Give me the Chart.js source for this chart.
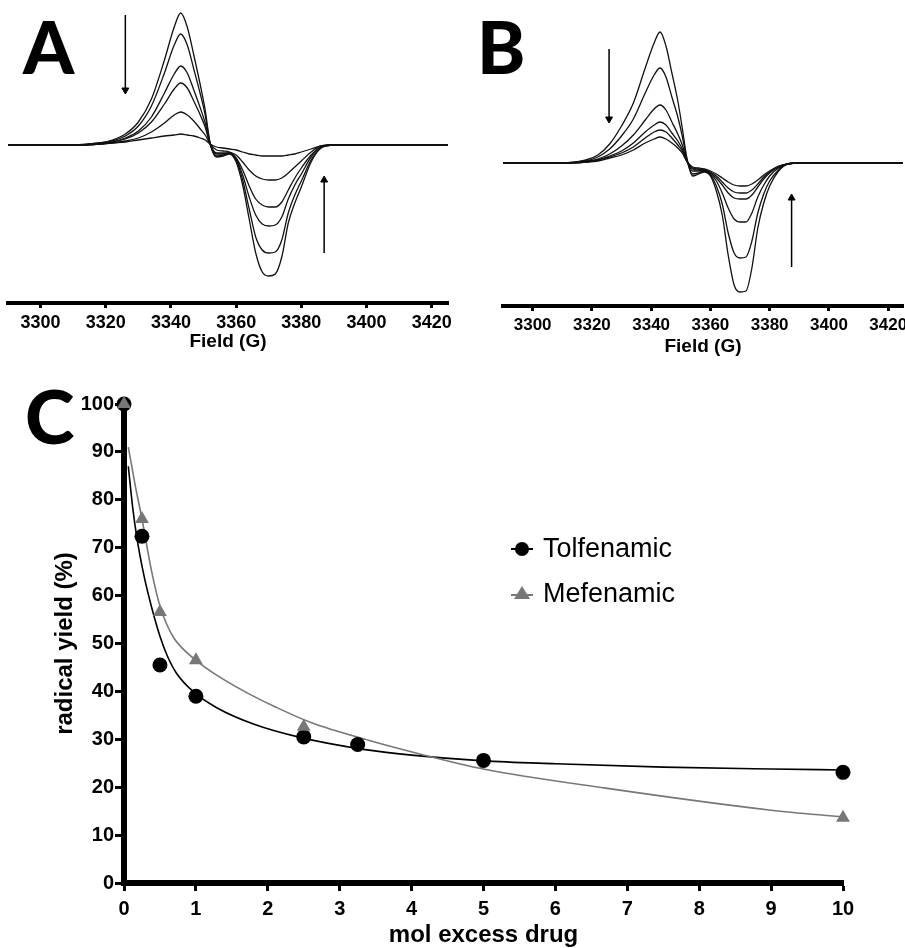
<!DOCTYPE html>
<html lang="en">
<head>
<meta charset="UTF-8">
<title>EPR spectra and radical yield</title>
<script src="https://cdn.jsdelivr.net/npm/chart.js"></script>
<style>
  body { margin: 0; background: #fff; width: 905px; height: 948px; position: relative; overflow: hidden; font-family: "Liberation Sans", Arial, sans-serif; }
  canvas { position: absolute; }
  .panel { position: absolute; font-family: Lato, "Liberation Sans", sans-serif; font-weight: 900; line-height: 1; color: #000; }
  .leg { position: absolute; font-size: 27px; line-height: 1; color: #000; white-space: nowrap; }
  .dot { position: absolute; width: 14px; height: 14px; border-radius: 50%; background: #000; }
  .tri { position: absolute; width: 0; height: 0; border-left: 8px solid transparent; border-right: 8px solid transparent; border-bottom: 13px solid #777; }
  .seg { position: absolute; height: 2px; }
</style>
</head>
<body>
<div class="panel" style="left:23px;top:10px;font-size:73px">A</div>
<div class="panel" style="left:477px;top:10px;font-size:73px">B</div>
<div class="panel" style="left:25px;top:378px;font-size:75px">C</div>

<canvas id="chartA" width="455" height="360" style="left:0;top:0"></canvas>
<canvas id="chartB" width="445" height="365" style="left:460px;top:0"></canvas>
<canvas id="chartC" width="905" height="568" style="left:0;top:380px"></canvas>

<div class="seg" style="left:511px;top:548px;width:22px;background:#000"></div>
<div class="dot" style="left:515px;top:542px"></div>
<div class="leg" style="left:543px;top:535px">Tolfenamic</div>
<div class="seg" style="left:511px;top:594px;width:22px;background:#777"></div>
<div class="tri" style="left:514px;top:586px"></div>
<div class="leg" style="left:543px;top:580px">Mefenamic</div>

<script>
// field positions (G) shared by all traces
const field = [3290, 3300, 3310, 3318, 3322, 3326, 3330, 3334, 3338, 3341, 3343, 3345, 3347, 3349, 3350.5, 3352,
               3354, 3356, 3358, 3360, 3362, 3364, 3366, 3368, 3370, 3372, 3374, 3376, 3378, 3380, 3383, 3386,
               3390, 3400, 3410, 3425];
const fieldTicks = [3300, 3320, 3340, 3360, 3380, 3400, 3420];

// panel A traces (signal, arbitrary units)
const a1 = [0,0,0,2,5,11,23,46,85,118,132,118,90,60,35,2,-12,-11,-9,-17,-40,-74,-108,-127,-131,-129,-112,-78,-58,-42,-17,-3,0,0,0,0];
const a2 = [0,0,0,2,4,9,19,39,72,100,111,100,76,51,30,2,-11,-10,-8,-15,-35,-64,-92,-105,-108,-107,-95,-68,-50,-36,-15,-3,0,0,0,0];
const a3 = [0,0,0,1,3,7,14,28,52,71,79,72,55,37,22,1,-9,-9,-8,-14,-30,-52,-70,-79,-81,-80,-72,-54,-40,-29,-12,-2,0,0,0,0];
const a4 = [0,0,0,1,3,6,12,23,41,56,62,57,44,30,18,1,-8,-8,-8,-13,-25,-41,-54,-60,-62,-62,-57,-45,-33,-23,-10,-2,0,0,0,0];
const a5 = [0,0,0,1,2,4,7,13,22,30,33,30,24,16,10,1,-5,-6,-7,-10,-17,-25,-31,-34,-35,-35,-33,-28,-22,-16,-7,-1,0,0,0,0];
const a6 = [0,0,0,1,2,3,5,7,9,10,11,10,9,7,5,1,-2,-3,-4,-5,-7,-9,-10,-11,-11,-11,-11,-10,-9,-7,-4,-1,0,0,0,0];

// panel B traces
const b1 = [0,0,0,3,8,19,37,60,95,120,131,117,90,62,35,6,-13,-11,-9,-13,-28,-52,-92,-122,-129,-128,-105,-65,-40,-23,-8,-1,0,0,0,0];
const b2 = [0,0,0,2,6,14,27,44,70,88,95,86,66,46,27,4,-11,-10,-8,-12,-23,-41,-70,-90,-95,-94,-78,-50,-31,-18,-7,-1,0,0,0,0];
const b3 = [0,0,0,2,4,9,17,28,43,54,58,53,41,29,18,3,-8,-8,-8,-11,-18,-30,-45,-56,-59,-59,-50,-34,-22,-13,-5,-1,0,0,0,0];
const b4 = [0,0,0,1,3,7,12,20,31,38,41,38,30,22,14,2,-6,-7,-8,-10,-15,-22,-30,-35,-36,-36,-32,-24,-16,-10,-4,-1,0,0,0,0];
const b5 = [0,0,0,1,3,6,10,16,25,31,33,31,25,18,12,2,-5,-6,-7,-9,-13,-19,-25,-29,-30,-30,-27,-21,-14,-9,-4,-1,0,0,0,0];
const b6 = [0,0,0,1,2,5,8,13,20,24,26,24,20,15,10,2,-4,-5,-6,-8,-11,-15,-19,-22,-23,-23,-21,-17,-12,-8,-3,-1,0,0,0,0];

// arrows (start, tip) in data units
const arrowDownA = [[3326, 130], [3326, 55]];
const arrowUpA = [[3387, -108], [3387, -35]];
const arrowDownB = [[3325.8, 114], [3325.8, 44]];
const arrowUpB = [[3387.4, -104], [3387.4, -35]];

// panel C
const tolfX = [0, 0.25, 0.5, 1, 2.5, 3.25, 5, 10];
const tolfY = [100, 72.4, 45.5, 39, 30.5, 28.9, 25.6, 23.1];
const mefX = [0, 0.25, 0.5, 1, 2.5, 10];
const mefY = [100, 76, 56.6, 46.5, 32.6, 13.6];
const tolfFitX = [0.06, 0.12, 0.18, 0.28, 0.385, 0.5, 0.6, 0.73, 0.96, 1.29, 1.8, 2.45, 3.33, 4, 5, 6, 7.5, 9, 10];
const tolfFitY = [87, 78.5, 72, 64, 57.5, 51.5, 47.5, 43.8, 40, 36.6, 33.2, 30.4, 27.9, 26.7, 25.5, 24.9, 24.2, 23.8, 23.6];
const mefFitX = [0.06, 0.15, 0.25, 0.385, 0.5, 0.6, 0.7, 0.8, 1, 1.3, 1.7, 2.1, 2.6, 3.4, 4.1, 5, 6.7, 9, 10];
const mefFitY = [91, 83.5, 76, 65, 57.8, 53.8, 51, 49.2, 46.5, 43.3, 39.8, 36.8, 33.5, 29.8, 27, 23.8, 19.8, 15.2, 13.8];

const font = '"Liberation Sans", Arial, sans-serif';

function trace(vals) {
    return {
        data: field.map((f, i) => ({x: f, y: vals[i]})),
        showLine: true, borderColor: '#111', borderWidth: 1.3,
        pointRadius: 0, cubicInterpolationMode: 'monotone', clip: false
    };
}

function arrow(pts, up) {
    return {
        data: pts.map(p => ({x: p[0], y: p[1]})),
        showLine: true, borderColor: '#000', borderWidth: 1.5,
        pointRadius: [0, 4], pointStyle: 'triangle', rotation: up ? 0 : 180,
        pointBackgroundColor: '#000', pointBorderColor: '#000', pointBorderWidth: 1, clip: false
    };
}

function spectrum(id, traces, arrows, yMin, yMax, padL, padR, axisH, tickSize) {
    new Chart(document.getElementById(id), {
        type: 'scatter',
        data: { datasets: traces.map(trace).concat(arrows) },
        options: {
            responsive: false, animation: false,
            layout: { autoPadding: false, padding: { left: padL, right: padR, top: 0, bottom: 0 } },
            plugins: { legend: { display: false }, tooltip: { enabled: false } },
            scales: {
                x: {
                    type: 'linear', min: 3290, max: 3425,
                    afterBuildTicks: s => { s.ticks = fieldTicks.map(v => ({value: v})); },
                    afterFit: s => { s.height = axisH; s.paddingLeft = 0; s.paddingRight = 0; },
                    ticks: { callback: v => String(v), color: '#000', padding: 4, maxRotation: 0,
                             font: { family: font, size: tickSize, weight: 'bold' } },
                    grid: { drawOnChartArea: false, drawTicks: true, tickLength: 5, tickWidth: 3, tickColor: '#000' },
                    border: { display: true, width: 4, color: '#000' },
                    title: { display: true, text: 'Field (G)', color: '#000', padding: { top: 0, bottom: 7 },
                             font: { family: font, size: 19, weight: 'bold' } }
                },
                y: { display: false, min: yMin, max: yMax }
            }
        }
    });
}

spectrum('chartA', [a1, a2, a3, a4, a5, a6], [arrow(arrowDownA, false), arrow(arrowUpA, true)], -158, 145, 8, 7, 57, 18);
spectrum('chartB', [b1, b2, b3, b4, b5, b6], [arrow(arrowDownB, false), arrow(arrowUpB, true)], -143, 163, 43, 2, 59, 17);

const pts = (xs, ys) => xs.map((x, i) => ({x: x, y: ys[i]}));

new Chart(document.getElementById('chartC'), {
    type: 'scatter',
    data: {
        datasets: [
            { label: 'Mefenamic', data: pts(mefX, mefY), order: 0, pointStyle: 'triangle', pointRadius: 8,
              backgroundColor: '#777', borderColor: '#777', borderWidth: 0, clip: false },
            { label: 'Tolfenamic', data: pts(tolfX, tolfY), order: 1, pointStyle: 'circle', pointRadius: 7.5,
              backgroundColor: '#000', borderColor: '#000', borderWidth: 0, clip: false },
            { data: pts(mefFitX, mefFitY), order: 2, showLine: true, pointRadius: 0, borderColor: '#777',
              borderWidth: 1.6, cubicInterpolationMode: 'monotone', clip: false },
            { data: pts(tolfFitX, tolfFitY), order: 3, showLine: true, pointRadius: 0, borderColor: '#000',
              borderWidth: 1.6, cubicInterpolationMode: 'monotone', clip: false }
        ]
    },
    options: {
        responsive: false, animation: false,
        layout: { autoPadding: false, padding: { left: 0, right: 62, top: 24, bottom: 0 } },
        plugins: { legend: { display: false }, tooltip: { enabled: false } },
        scales: {
            x: {
                type: 'linear', min: 0, max: 10,
                afterFit: s => { s.height = 65; s.paddingLeft = 0; s.paddingRight = 0; },
                ticks: { stepSize: 1, color: '#000', padding: 6, maxRotation: 0,
                         font: { family: font, size: 20, weight: 'bold' } },
                grid: { drawOnChartArea: false, drawTicks: true, tickLength: 8, tickWidth: 3, tickColor: '#000' },
                border: { display: true, width: 6, color: '#000' },
                title: { display: true, text: 'mol excess drug', color: '#000', padding: { top: 0, bottom: 1 },
                         font: { family: font, size: 24, weight: 'bold', lineHeight: 1 } }
            },
            y: {
                type: 'linear', min: 0, max: 100,
                afterFit: s => { s.width = 124; },
                ticks: { stepSize: 10, color: '#000', padding: 1,
                         font: { family: font, size: 20, weight: 'bold' } },
                grid: { drawOnChartArea: false, drawTicks: true, tickLength: 9, tickWidth: 3, tickColor: '#000' },
                border: { display: true, width: 6, color: '#000' },
                title: { display: true, text: 'radical yield (%)', color: '#000', padding: { top: 53, bottom: 0 },
                         font: { family: font, size: 24, weight: 'bold', lineHeight: 1 } }
            }
        }
    }
});
</script>
</body>
</html>
